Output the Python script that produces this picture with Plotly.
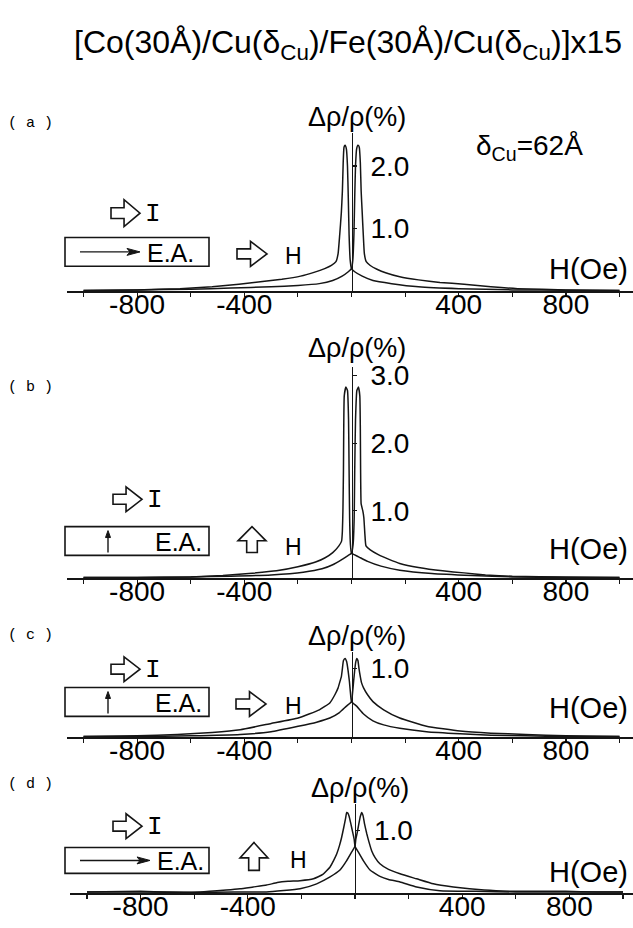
import plotly.graph_objects as go

W, H = 633, 928

# ---------------- data (H in Oe, delta rho / rho in %) ----------------
# panel (a)  E.A. // I,  H // I
a_inc_h = [-1000, -800, -600, -450, -300, -200, -120, -70, -35, -12, 0, 5, 9, 12, 15, 19, 24, 29, 33, 36, 40, 44, 48, 55, 70, 95, 130, 180, 250, 330, 420, 520, 620, 800, 1000]
a_inc_r = [0.01, 0.02, 0.03, 0.05, 0.07, 0.09, 0.12, 0.17, 0.24, 0.31, 0.36, 0.5, 0.9, 1.5, 2.0, 2.27, 2.33, 2.3, 2.05, 1.6, 1.25, 0.9, 0.6, 0.47, 0.41, 0.35, 0.29, 0.23, 0.18, 0.14, 0.11, 0.07, 0.04, 0.02, 0.01]
a_dec_h = [1000, 800, 600, 400, 250, 150, 80, 40, 12, 0, -5, -9, -12, -15, -19, -24, -28, -31, -34, -38, -44, -50, -58, -75, -100, -140, -190, -260, -340, -420, -520, -640, -800, -1000]
a_dec_r = [0.01, 0.015, 0.02, 0.04, 0.07, 0.12, 0.17, 0.24, 0.31, 0.36, 0.5, 0.9, 1.5, 2.0, 2.27, 2.33, 2.3, 2.05, 1.6, 1.25, 0.9, 0.6, 0.47, 0.41, 0.36, 0.3, 0.24, 0.19, 0.15, 0.11, 0.07, 0.04, 0.02, 0.01]

# panel (b)  E.A. perpendicular to I,  H perpendicular to I
b_inc_h = [-1000, -800, -600, -450, -300, -180, -110, -70, -35, -12, 0, 6, 10, 12, 15, 20, 26, 31, 33, 34, 36, 42, 46, 50, 54, 70, 100, 140, 180, 250, 340, 420, 500, 600, 800, 1000]
b_inc_r = [0.01, 0.01, 0.02, 0.03, 0.05, 0.09, 0.14, 0.2, 0.28, 0.34, 0.37, 0.5, 0.9, 1.6, 2.35, 2.78, 2.83, 2.7, 2.2, 1.6, 1.1, 1.0, 0.9, 0.65, 0.48, 0.42, 0.35, 0.28, 0.22, 0.16, 0.11, 0.08, 0.05, 0.03, 0.02, 0.01]
b_dec_h = [1000, 800, 600, 450, 300, 180, 110, 60, 30, 10, 0, -4, -7, -9, -11, -15, -21, -27, -29, -30, -32, -34, -37, -47, -70, -100, -134, -200, -280, -383, -480, -600, -800, -1000]
b_dec_r = [0.01, 0.01, 0.02, 0.04, 0.07, 0.12, 0.18, 0.25, 0.31, 0.35, 0.37, 0.5, 0.9, 1.6, 2.35, 2.78, 2.83, 2.7, 2.2, 1.6, 1.0, 0.7, 0.55, 0.48, 0.38, 0.3, 0.24, 0.17, 0.11, 0.07, 0.04, 0.02, 0.01, 0.01]

# panel (c)  E.A. perpendicular to I,  H // I
c_inc_h = [-1000, -800, -600, -415, -300, -199, -130, -81, -45, -20, 0, 4, 8, 12, 16, 20, 24, 28, 33, 37, 45, 60, 80, 120, 180, 280, 405, 520, 650, 800, 1000]
c_inc_r = [0.01, 0.01, 0.02, 0.04, 0.08, 0.16, 0.22, 0.28, 0.36, 0.45, 0.52, 0.65, 0.82, 0.98, 1.1, 1.15, 1.12, 1.0, 0.88, 0.8, 0.72, 0.62, 0.52, 0.4, 0.28, 0.16, 0.09, 0.06, 0.04, 0.02, 0.01]
c_dec_h = [1000, 800, 650, 520, 405, 280, 180, 120, 80, 45, 20, 0, -4, -8, -13, -18, -24, -30, -34, -38, -44, -50, -62, -81, -120, -199, -300, -415, -520, -650, -800, -1000]
c_dec_r = [0.01, 0.01, 0.02, 0.03, 0.05, 0.08, 0.13, 0.18, 0.24, 0.34, 0.45, 0.52, 0.65, 0.82, 0.98, 1.1, 1.15, 1.12, 1.0, 0.88, 0.8, 0.72, 0.62, 0.5, 0.4, 0.28, 0.2, 0.11, 0.07, 0.04, 0.02, 0.01]

# panel (d)  E.A. // I,  H perpendicular to I
d_inc_h = [-1000, -800, -600, -450, -330, -205, -143, -93, -56, -31, -12, 0, 3, 8, 14, 20, 25, 30, 36, 44, 52, 62, 75, 93, 125, 168, 230, 292, 367, 482, 600, 786, 900, 1000]
d_inc_r = [0.02, 0.02, 0.01, 0.02, 0.02, 0.07, 0.15, 0.26, 0.37, 0.52, 0.66, 0.75, 0.86, 0.96, 1.1, 1.23, 1.29, 1.24, 1.1, 0.95, 0.82, 0.68, 0.57, 0.47, 0.38, 0.31, 0.23, 0.15, 0.1, 0.05, 0.03, 0.03, 0.02, 0.02]
d_dec_h = [1000, 800, 600, 450, 317, 230, 168, 125, 93, 56, 31, 12, 0, -3, -8, -15, -22, -27, -31, -35, -42, -50, -58, -68, -80, -93, -120, -155, -205, -250, -290, -330, -380, -429, -480, -578, -700, -800, -1000]
d_dec_r = [0.02, 0.02, 0.02, 0.03, 0.04, 0.1, 0.18, 0.22, 0.27, 0.37, 0.52, 0.66, 0.75, 0.86, 0.96, 1.1, 1.23, 1.28, 1.29, 1.2, 1.05, 0.89, 0.76, 0.63, 0.52, 0.42, 0.3, 0.23, 0.2, 0.19, 0.17, 0.13, 0.1, 0.07, 0.05, 0.02, 0.02, 0.03, 0.02]

x_tick_vals = [-800, -400, 400, 800]
x_tick_text = ["-800", "-400", "400", "800"]

title_text = "[Co(30Å)/Cu(δ<sub>Cu</sub>)/Fe(30Å)/Cu(δ<sub>Cu</sub>)]x15"
y_title = "Δρ/ρ(%)"
x_title = "H(Oe)"

panels = [
    dict(key="a", inc=(a_inc_h, a_inc_r), dec=(a_dec_h, a_dec_r), yt=[1, 2], ytt=["1.0", "2.0"]),
    dict(key="b", inc=(b_inc_h, b_inc_r), dec=(b_dec_h, b_dec_r), yt=[1, 2, 3], ytt=["1.0", "2.0", "3.0"]),
    dict(key="c", inc=(c_inc_h, c_inc_r), dec=(c_dec_h, c_dec_r), yt=[1], ytt=["1.0"]),
    dict(key="d", inc=(d_inc_h, d_inc_r), dec=(d_dec_h, d_dec_r), yt=[1], ytt=["1.0"]),
]

# ---------------- layout geometry (pixels) ----------------
SCALE = 0.268  # px per Oe
geom = {
    "a": dict(zx=351.5, left=67, axis=287, top=128, unit=63, ylab=112, plab=118,
              arrI=(111, 195, 29, 27), boxy=(233, 262), ea="h", eax=145, arrH=(237, 237, 30, 25), Hx=283, Hy=252,
              hoe=265, up=False),
    "b": dict(zx=351.5, left=67, axis=576, top=363, unit=68, ylab=344, plab=384,
              arrI=(113, 484, 29, 25), boxy=(524, 553), ea="v", eax=153, arrH=(238, 524, 28, 26), Hx=283, Hy=545,
              hoe=547, up=True),
    "c": dict(zx=351.5, left=67, axis=736, top=650, unit=69, ylab=634, plab=634,
              arrI=(111, 655, 29, 25), boxy=(686, 715), ea="v", eax=153, arrH=(236, 690, 30, 25), Hx=283, Hy=705,
              hoe=707, up=False),
    "d": dict(zx=355.0, left=70, axis=893, top=803, unit=63, ylab=787, plab=784,
              arrI=(113, 813, 29, 25), boxy=(847, 873), ea="h", eax=155, arrH=(240, 842, 28, 28), Hx=288, Hy=860,
              hoe=872, up=True),
}

FONT = "Liberation Sans, Arial, Helvetica, sans-serif"
MONO = "Liberation Mono, Courier New, monospace"
INK = "#151515"


def px(x):
    return x / W


def py(y):
    return 1 - y / H


def path(pts):
    return "M " + " L ".join(f"{px(x):.5f},{py(y):.5f}" for x, y in pts) + " Z"


def right_arrow(x0, y0, w, h):
    cy = y0 + h / 2
    sx = x0 + 0.45 * w
    sh = 0.2 * h
    return path([(x0, cy - sh), (sx, cy - sh), (sx, y0), (x0 + w, cy), (sx, y0 + h), (sx, cy + sh), (x0, cy + sh)])


def up_arrow(x0, y0, w, h):
    cx = x0 + w / 2
    sy = y0 + 0.55 * h
    sw = 0.19 * w
    return path([(cx - sw, y0 + h), (cx - sw, sy), (x0, sy), (cx, y0), (x0 + w, sy), (cx + sw, sy), (cx + sw, y0 + h)])


fig = go.Figure()
shapes = []
annotations = []
layout = {}

for i, p in enumerate(panels, start=1):
    g = geom[p["key"]]
    xname = "x" if i == 1 else f"x{i}"
    yname = "y" if i == 1 else f"y{i}"
    xa = "xaxis" if i == 1 else f"xaxis{i}"
    ya = "yaxis" if i == 1 else f"yaxis{i}"
    rmin = (g["left"] - g["zx"]) / SCALE
    rmax = (W - g["zx"]) / SCALE
    ytop = (g["axis"] - g["top"]) / g["unit"]

    for hh, rr in (p["inc"], p["dec"]):
        fig.add_trace(go.Scatter(x=hh, y=rr, mode="lines", xaxis=xname, yaxis=yname,
                                 line=dict(color=INK, width=1.5, shape="spline", smoothing=0.4),
                                 showlegend=False, hoverinfo="skip"))

    layout[xa] = dict(domain=[px(g["left"]), 1.0], range=[rmin, rmax], anchor=yname,
                      showline=True, linecolor=INK, linewidth=1.4, ticks="outside", ticklen=4,
                      tickcolor=INK, tickwidth=1.2, tickmode="array", tickvals=x_tick_vals, ticktext=x_tick_text,
                      minor=dict(ticks="outside", ticklen=4, tickcolor=INK, tickwidth=1.2, tickmode="linear",
                                 tick0=0, dtick=200, showgrid=False),
                      tickfont=dict(family=FONT, size=28, color="black"), ticklabelstandoff=-16,
                      showgrid=False, zeroline=False, fixedrange=True)
    layout[ya] = dict(domain=[py(g["axis"]), py(g["top"])], range=[0, ytop], anchor="free",
                      position=px(g["zx"]), side="right", showline=True, linecolor=INK, linewidth=1.3,
                      ticks="outside", ticklen=4, tickcolor=INK, tickwidth=1.2, tickmode="array",
                      tickvals=p["yt"], ticktext=p["ytt"], ticklabelstandoff=8,
                      tickfont=dict(family=FONT, size=28, color="black"),
                      showgrid=False, zeroline=False, fixedrange=True)

    annotations.append(dict(text=y_title, x=px(g["zx"] + 5), y=py(g["ylab"]), xref="paper", yref="paper",
                            xanchor="center", yanchor="middle", showarrow=False,
                            font=dict(family=FONT, size=27, color="black")))
    annotations.append(dict(text=x_title, x=px(630), y=py(g["hoe"]), xref="paper", yref="paper",
                            xanchor="right", yanchor="middle", showarrow=False,
                            font=dict(family=FONT, size=29, color="black")))
    annotations.append(dict(text=f"( {p['key']} )", x=px(6), y=py(g["plab"]), xref="paper", yref="paper",
                            xanchor="left", yanchor="middle", showarrow=False,
                            font=dict(family=MONO, size=15, color="black")))
    ax0, ay0, aw, ah = g["arrI"]
    shapes.append(dict(type="path", path=right_arrow(ax0, ay0, aw, ah), xref="paper", yref="paper",
                       line=dict(color=INK, width=1.6), fillcolor="white"))
    annotations.append(dict(text="I", x=px(ax0 + aw + 3), y=py(ay0 + ah / 2 + 1), xref="paper", yref="paper",
                            xanchor="left", yanchor="middle", showarrow=False,
                            font=dict(family=MONO, size=26, color="black")))
    by0, by1 = g["boxy"]
    shapes.append(dict(type="rect", x0=px(65), x1=px(209), y0=py(by1), y1=py(by0), xref="paper", yref="paper",
                       line=dict(color=INK, width=1.6), fillcolor="rgba(0,0,0,0)"))
    bcy = (by0 + by1) / 2
    if g["ea"] == "h":
        xe = g["eax"] - 5
        shapes.append(dict(type="line", x0=px(80), x1=px(xe - 8), y0=py(bcy), y1=py(bcy), xref="paper", yref="paper",
                           line=dict(color=INK, width=1.4)))
        shapes.append(dict(type="path", path=path([(xe - 13, bcy - 3.5), (xe, bcy), (xe - 13, bcy + 3.5), (xe - 10, bcy)]),
                           xref="paper", yref="paper", line=dict(color=INK, width=1), fillcolor=INK))
    else:
        xv = 108
        shapes.append(dict(type="line", x0=px(xv), x1=px(xv), y0=py(by1 - 3), y1=py(by0 + 9), xref="paper", yref="paper",
                           line=dict(color=INK, width=1.4)))
        shapes.append(dict(type="path", path=path([(xv - 2.5, by0 + 11), (xv, by0 + 4), (xv + 2.5, by0 + 11)]),
                           xref="paper", yref="paper", line=dict(color=INK, width=1), fillcolor=INK))
    annotations.append(dict(text="E.A.", x=px(g["eax"]), y=py(bcy + 1), xref="paper", yref="paper",
                            xanchor="left", yanchor="middle", showarrow=False,
                            font=dict(family=FONT, size=25, color="black")))
    hx0, hy0, hw, hh_ = g["arrH"]
    fpath = up_arrow(hx0, hy0, hw, hh_) if g["up"] else right_arrow(hx0, hy0, hw, hh_)
    shapes.append(dict(type="path", path=fpath, xref="paper", yref="paper",
                       line=dict(color=INK, width=1.6), fillcolor="white"))
    annotations.append(dict(text="H", x=px(g["Hx"]), y=py(g["Hy"]), xref="paper", yref="paper",
                            xanchor="left", yanchor="middle", showarrow=False,
                            font=dict(family=FONT, size=23, color="black")))

annotations.append(dict(text=title_text, x=px(348), y=py(39), xref="paper", yref="paper",
                        xanchor="center", yanchor="middle", showarrow=False,
                        font=dict(family=FONT, size=32, color="black")))
annotations.append(dict(text="δ<sub>Cu</sub>=62Å", x=px(474), y=py(142), xref="paper", yref="paper",
                        xanchor="left", yanchor="middle", showarrow=False,
                        font=dict(family=FONT, size=28, color="black")))

fig.update_layout(width=W, height=H, margin=dict(l=0, r=0, t=0, b=0),
                  paper_bgcolor="white", plot_bgcolor="white",
                  shapes=shapes, annotations=annotations, showlegend=False, **layout)

fig.write_html("out.html", config={"displayModeBar": False, "staticPlot": True},
               post_script="document.body.style.margin='0';")
